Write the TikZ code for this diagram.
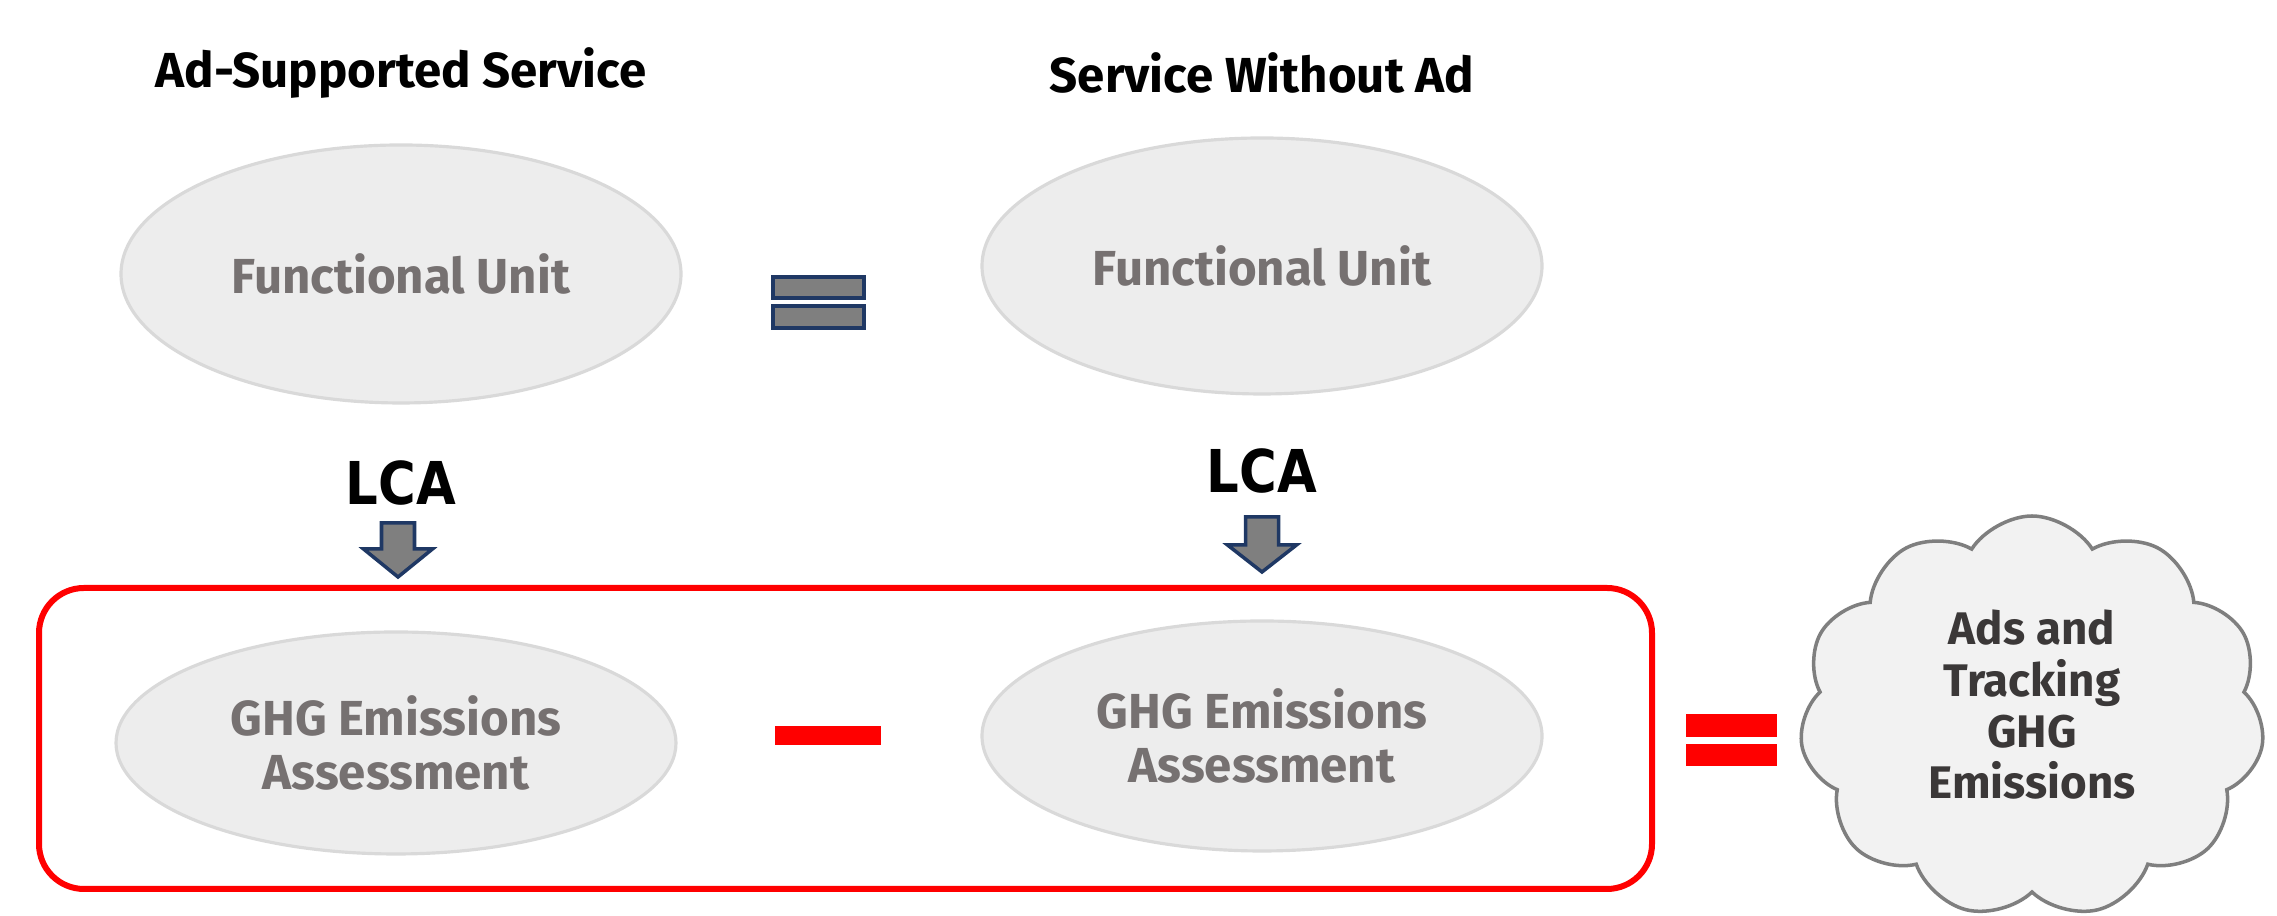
\documentclass[tikz,border=0pt]{standalone}
\usepackage{fontspec}
\setmainfont{Fira Sans}
\newfontfamily\lcafont[FakeStretch=0.87]{DejaVu Sans}
\usepackage{tikz}
\usetikzlibrary{shapes,positioning}
\definecolor{unitfill}{RGB}{237,237,237}
\definecolor{unitrim}{RGB}{217,217,217}
\definecolor{unittext}{RGB}{118,113,113}
\definecolor{navy}{RGB}{31,56,100}
\definecolor{midgray}{RGB}{127,127,127}
\definecolor{cloudfill}{RGB}{242,242,242}
\definecolor{cloudtext}{RGB}{59,56,56}
\definecolor{signred}{RGB}{255,0,0}
\tikzset{title/.style={font=\fontsize{14}{16}\selectfont\bfseries,text=black}}
\tikzset{unit/.style={ellipse,fill=unitfill,draw=unitrim,line width=0.9pt,inner sep=0pt,minimum width=5.6cm,text=unittext,align=center,font=\fontsize{14}{15.6}\selectfont\bfseries}}
\tikzset{lcalabel/.style={font=\lcafont\fontsize{16.8}{18}\selectfont\bfseries,inner sep=0pt}}
\tikzset{blockarrow/.style={fill=midgray,draw=navy,line width=1pt,line join=miter}}
\tikzset{graybar/.style={fill=midgray,draw=navy,line width=1pt}}
\tikzset{redbar/.style={fill=signred}}
\tikzset{emissioncloud/.style={cloud,cloud puffs=11,cloud puff arc=115,aspect=1.15,fill=cloudfill,draw=midgray,line width=1pt,minimum width=4.65cm,minimum height=4.02cm}}
\tikzset{cloudlabel/.style={align=center,text=cloudtext,font=\fontsize{13}{14.6}\selectfont\bfseries}}

\begin{document}
\begin{tikzpicture}

	\useasboundingbox (0,0) rectangle (22.77,9.16);
	\node[title] (adtitle) at (4.01,8.43) {Ad-Supported Service};
	\node[title] (noadtitle) at (12.62,8.43) {Service Without Ad};
	\node[unit,minimum height=2.58cm] (unitad) at (4.01,6.42) {Functional Unit};
	\node[unit,minimum height=2.56cm] (unitnoad) at (12.62,6.50) {Functional Unit};
	\draw[graybar] (7.73,6.18) rectangle (8.64,6.39);
	\draw[graybar] (7.73,5.88) rectangle (8.64,6.10);
	\node[lcalabel] (lcaad) at (4.01,4.33) {LCA};
	\node[lcalabel] (lcanoad) at (12.62,4.45) {LCA};
	\coordinate (arrowad) at (3.98,3.93);
	\coordinate (arrownoad) at (12.62,3.99);
	\draw[blockarrow] (arrowad) -- ++(0.165,0) -- ++(0,-0.26) -- ++(0.18,0) -- ++(-0.345,-0.28) -- ++(-0.345,0.28) -- ++(0.18,0) -- ++(0,0.26) -- cycle;
	\draw[blockarrow] (arrownoad) -- ++(0.165,0) -- ++(0,-0.28) -- ++(0.18,0) -- ++(-0.345,-0.27) -- ++(-0.345,0.27) -- ++(0.18,0) -- ++(0,0.28) -- cycle;
	\draw[signred,line width=0.06cm,rounded corners=0.45cm] (0.39,0.27) rectangle (16.52,3.28);
	\node[unit,minimum height=2.22cm] (ghgad) at (3.96,1.73) {GHG Emissions\\Assessment};
	\node[unit,minimum height=2.30cm] (ghgnoad) at (12.62,1.80) {GHG Emissions\\Assessment};
	\fill[redbar] (7.75,1.71) rectangle (8.81,1.90);
	\fill[redbar] (16.86,1.79) rectangle (17.77,2.02);
	\fill[redbar] (16.86,1.50) rectangle (17.77,1.72);
	\node[emissioncloud] (adcloud) at (20.32,1.99) {};
	\node[cloudlabel] (cloudtxt) at ([yshift=0.12cm]adcloud.center) {Ads and\\Tracking\\GHG\\Emissions};
\end{tikzpicture}
\end{document}
